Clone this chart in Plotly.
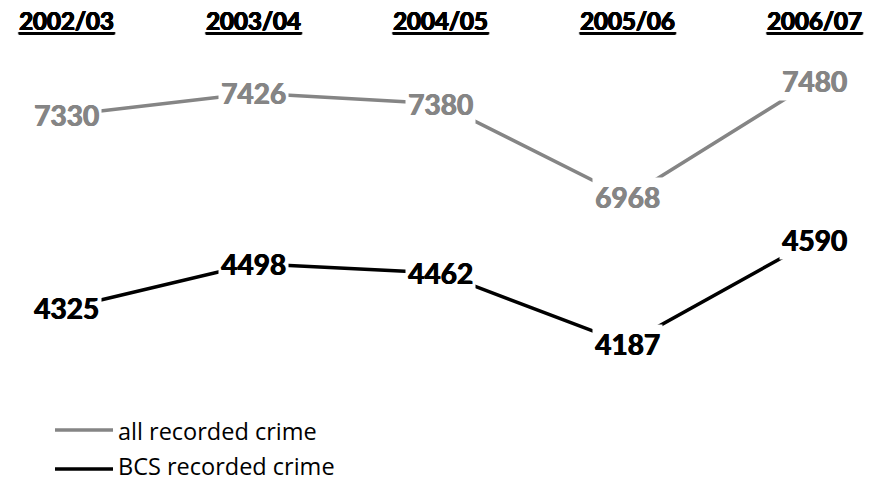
import plotly.graph_objects as go

years = ["2002/03", "2003/04", "2004/05", "2005/06", "2006/07"]
all_recorded = [7330, 7426, 7380, 6968, 7480]
bcs_recorded = [4325, 4498, 4462, 4187, 4590]
series_names = ["all recorded crime", "BCS recorded crime"]
grey = "#858585"
black = "#000000"
FONT = "Lato"

xs = list(range(len(years)))
W, H = 872, 483

fig = go.Figure()
fig.add_trace(go.Scatter(x=xs, y=all_recorded, mode="lines", name=series_names[0],
                         line=dict(color=grey, width=3.5), yaxis="y", hoverinfo="skip",
                         showlegend=False))
fig.add_trace(go.Scatter(x=xs, y=bcs_recorded, mode="lines", name=series_names[1],
                         line=dict(color=black, width=3.5), yaxis="y2", hoverinfo="skip",
                         showlegend=False))


def heavy(color):
    return f"0.7px 0 0 {color}, -0.3px 0 0 {color}"


annotations = []
for i, v in enumerate(all_recorded):
    annotations.append(dict(x=i, y=v, xref="x", yref="y", text=f"<b>{v}</b>", showarrow=False,
                            font=dict(family=FONT, size=28, color=grey, shadow=heavy(grey)),
                            bgcolor="white", borderpad=2, xanchor="center", yanchor="middle"))
for i, v in enumerate(bcs_recorded):
    annotations.append(dict(x=i, y=v, xref="x", yref="y2", text=f"<b>{v}</b>", showarrow=False,
                            font=dict(family=FONT, size=28, color=black, shadow=heavy(black)),
                            bgcolor="white", borderpad=2, xanchor="center", yanchor="middle"))
for i, yr in enumerate(years):
    annotations.append(dict(x=i, y=1 - 21 / H, xref="x", yref="paper", text=f"<b><u>{yr}</u></b>",
                            showarrow=False,
                            font=dict(family=FONT, size=24, color="black", shadow=heavy("black")),
                            xanchor="center", yanchor="middle"))

# manual legend (long key lines like the reference)
shapes = []
shapes.append(dict(type="line", xref="paper", yref="paper", x0=55 / W, x1=113 / W,
                   y0=1 - 430 / H, y1=1 - 430 / H, line=dict(color=grey, width=3.5)))
shapes.append(dict(type="line", xref="paper", yref="paper", x0=55 / W, x1=113 / W,
                   y0=1 - 469 / H, y1=1 - 469 / H, line=dict(color=black, width=3.5)))
annotations.append(dict(x=117 / W, y=1 - 431 / H, xref="paper", yref="paper", text=series_names[0],
                        showarrow=False, xanchor="left", yanchor="middle", borderpad=0,
                        font=dict(family="Open Sans", size=23.5, color="black")))
annotations.append(dict(x=117 / W, y=0, xref="paper", yref="paper", text=series_names[1],
                        showarrow=False, xanchor="left", yanchor="bottom", borderpad=0,
                        font=dict(family="Open Sans", size=23.5, color="black")))

xmin = -66 / 187
xmax = xmin + W / 187

fig.update_layout(
    width=W, height=H,
    margin=dict(l=0, r=0, t=0, b=0),
    plot_bgcolor="white", paper_bgcolor="white",
    showlegend=False,
    xaxis=dict(range=[xmin, xmax], visible=False, fixedrange=True),
    yaxis=dict(domain=[1 - 220 / H, 1 - 60 / H], range=[6869, 7572], visible=False),
    yaxis2=dict(domain=[1 - 380 / H, 1 - 225 / H], range=[4047, 4648], visible=False),
    annotations=annotations,
    shapes=shapes,
    font=dict(family=FONT),
)

fig.write_html("out.html", config={"displayModeBar": False},
               post_script="document.body.style.margin='0';document.body.style.overflow='hidden';")
